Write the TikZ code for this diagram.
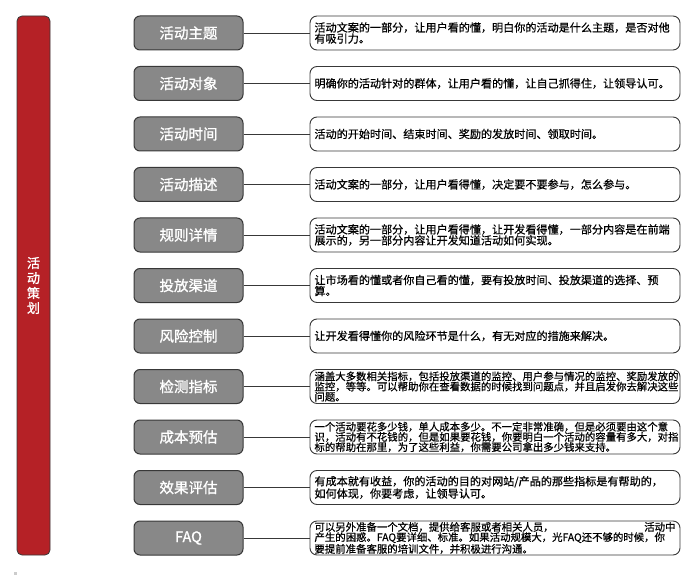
\documentclass[tikz,border=0pt]{standalone}
\usepackage{fontspec}
\setmainfont{Noto Sans CJK SC}
\newfontfamily\descfont{Noto Sans CJK SC}[FakeBold=0.6]
\newfontfamily\labfont{Noto Sans CJK SC}[FakeBold=1.2]
\definecolor{redc}{HTML}{B52126}
\definecolor{grayc}{HTML}{888888}
\definecolor{darkc}{HTML}{383838}
\begin{document}
\begin{tikzpicture}[x=1pt,y=-1pt,
  redbar/.style={draw=darkc, fill=redc, rounded corners=5pt, minimum width=33pt, minimum height=539pt, line width=0.8pt, inner sep=0pt, text=white, align=center, font=\labfont\fontsize{13}{15}\selectfont},
  topic/.style={draw=darkc, fill=grayc, rounded corners=6pt, minimum width=109pt, minimum height=34pt, line width=1pt, text=white, inner sep=0pt, font=\labfont\fontsize{14.5}{16}\selectfont},
  desc/.style={draw=darkc, fill=white, rounded corners=7pt, text width=361pt, inner xsep=4.5pt, inner ysep=0pt, minimum height=34pt, align=left, line width=0.9pt, font=\descfont\fontsize{11.1}{11}\selectfont},
  descthree/.style={desc, font=\descfont\fontsize{10.4}{10.2}\selectfont},
  link/.style={draw=darkc, line width=0.9pt}]
\useasboundingbox (0,0) rectangle (696,588);
\node[redbar] (plan) at (33.5,285.5) {活\\动\\策\\划};
\node[topic] (t1) at (188.5,33) {活动主题};
\node[topic] (t2) at (188.5,83.5) {活动对象};
\node[topic] (t3) at (188.5,134) {活动时间};
\node[topic] (t4) at (188.5,184.5) {活动描述};
\node[topic] (t5) at (188.5,235) {规则详情};
\node[topic] (t6) at (188.5,285.5) {投放渠道};
\node[topic] (t7) at (188.5,336) {风险控制};
\node[topic] (t8) at (188.5,386.5) {检测指标};
\node[topic] (t9) at (188.5,437) {成本预估};
\node[topic] (t10) at (188.5,487.5) {效果评估};
\node[topic] (t11) at (188.5,538) {FAQ};
\node[desc] (d1) at (495,33) {活动文案的一部分，让用户看的懂，明白你的活动是什么主题，是否对他\\有吸引力。};
\node[desc] (d2) at (495,83.5) {明确你的活动针对的群体，让用户看的懂，让自己抓得住，让领导认可。};
\node[desc] (d3) at (495,134) {活动的开始时间、结束时间、奖励的发放时间、领取时间。};
\node[desc] (d4) at (495,184.5) {活动文案的一部分，让用户看得懂，决定要不要参与，怎么参与。};
\node[desc] (d5) at (495,235) {活动文案的一部分，让用户看得懂，让开发看得懂，一部分内容是在前端\\展示的，另一部分内容让开发知道活动如何实现。};
\node[desc] (d6) at (495,285.5) {让市场看的懂或者你自己看的懂，要有投放时间、投放渠道的选择、预\\算。};
\node[desc] (d7) at (495,336) {让开发看得懂你的风险环节是什么，有无对应的措施来解决。};
\node[descthree] (d8) at (495,386.5) {涵盖大多数相关指标，包括投放渠道的监控、用户参与情况的监控、奖励发放的\\监控，等等。可以帮助你在查看数据的时候找到问题点，并且启发你去解决这些\\问题。};
\node[descthree] (d9) at (495,437) {一个活动要花多少钱，单人成本多少。不一定非常准确，但是必须要由这个意\\识，活动有不花钱的，但是如果要花钱，你要明白一个活动的容量有多大，对指\\标的帮助在那里，为了这些利益，你需要公司拿出多少钱来支持。};
\node[desc] (d10) at (495,487.5) {有成本就有收益，你的活动的目的对网站/产品的那些指标是有帮助的，\\如何体现，你要考虑，让领导认可。};
\node[descthree] (d11) at (495,538) {可以另外准备一个文档，提供给客服或者相关人员，\hfill 活动中\\产生的困惑。FAQ要详细、标准。如果活动规模大，光FAQ还不够的时候，你\\要提前准备客服的培训文件，并积极进行沟通。};
\foreach \i in {1,...,11} {\draw[link] (t\i) -- (d\i);}
\fill[black!20] (14,572) rectangle (17,575);
\end{tikzpicture}
\end{document}
